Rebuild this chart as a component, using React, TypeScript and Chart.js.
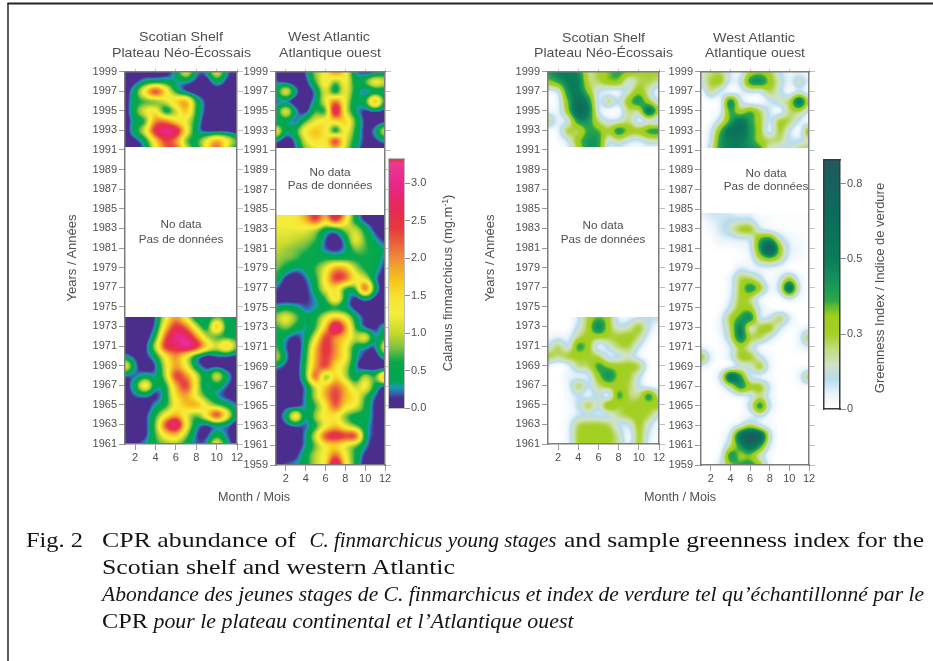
import React, { useEffect, useRef } from "react";
import { Chart, registerables } from "chart.js";
Chart.register(...registerables);

const months = [1, 2, 3, 4, 5, 6, 7, 8, 9, 10, 11, 12];
const monthTicks = [2, 4, 6, 8, 10, 12];
const yearTicksLong = [1959, 1961, 1963, 1965, 1967, 1969, 1971, 1973, 1975, 1977, 1979, 1981, 1983, 1985, 1987, 1989, 1991, 1993, 1995, 1997, 1999];
const yearTicksShort = yearTicksLong.slice(1);
const abundanceTicks = [0, 0.5, 1, 1.5, 2, 2.5, 3];
const greennessTicks = [0, 0.25, 0.5, 0.75];
const greennessTickLabels = ["0", "0.3", "0.5", "0.8"];

// rows run from the newest year down, columns are months 1..12
const shelfAbundanceRecent = [
  [0, 0, 0, 0, 0, .4, 1.2, .3, .3, 1.2, .3, 0],
  [0, .1, .4, .5, .5, .3, .3, .1, 0, .4, .1, 0],
  [0, .5, 1.5, 2.4, 1.5, .6, .2, 0, 0, 0, 0, 0],
  [0, .5, .7, .8, 1.1, 1.6, 1.8, .6, .1, 0, 0, 0],
  [0, .6, 1.2, 1.4, .5, 1.0, 1.7, .6, .1, 0, 0, 0],
  [0, .4, .7, 2.0, 2.0, 1.5, 1.2, .5, 0, 0, 0, 0],
  [0, .5, 1.2, 2.6, 3.0, 2.8, 1.4, .4, .1, .1, .1, 0],
  [0, .1, .5, 1.6, 2.4, 2.0, .8, .6, 1.2, 1.8, 1.3, .7],
  [0, 0, .3, 1.2, 2.2, 2.4, 1.2, .5, 1.3, 2.3, 1.0, .4],
];
const shelfAbundanceEarly = [
  [0, 0, 0, .2, 1.2, 1.9, 1.2, .4, .4, .7, .5, .4],
  [0, 0, 0, .3, 1.6, 2.5, 2.1, 1.1, .5, 1.7, .5, .4],
  [0, 0, 0, .6, 2.2, 3.0, 2.9, 2.0, 1.0, .7, .6, .5],
  [0, 0, .1, 1.0, 2.5, 2.7, 3.1, 2.6, 1.6, 1.1, 1.6, .8],
  [.3, .1, .1, .5, 1.4, 2.0, 1.3, .5, .1, .2, .2, .1],
  [1.3, .3, 0, .2, 1.1, 1.9, 1.3, .4, .1, .1, 0, 0],
  [.2, .2, .4, .3, 1.0, 2.4, 2.0, 1.1, .4, 1.1, .4, 0],
  [0, .5, 1.4, .4, .6, 1.8, 2.4, 1.2, .3, .5, .2, 0],
  [0, .2, .3, .1, .5, 1.5, 1.9, 1.2, .6, .3, .1, 0],
  [0, 0, 0, .3, .6, 1.3, 1.7, 1.8, 1.2, .8, .5, .2],
  [0, 0, .1, .6, 1.3, 1.8, 1.2, .8, 1.4, 2.4, 1.3, .3],
  [0, 0, .1, .8, 2.3, 3.0, 1.4, .4, .2, .4, .3, 0],
  [0, 0, .1, .7, 1.5, 1.7, .9, .2, .1, .5, .2, 0],
  [0, .1, .3, .6, .8, .9, .5, .2, .3, 1.3, .4, 0],
];
const atlanticAbundanceRecent = [
  [0, 0, 0, .2, .9, 1.3, 2.0, 1.4, .3, .1, .1, .4],
  [.2, .1, 0, .1, .7, 1.4, .8, 1.3, .5, .7, 1.3, 1.0],
  [.4, 1.2, .3, 0, .3, 1.1, .5, 1.2, .5, .2, .4, .4],
  [.2, .2, 0, 0, .4, 1.2, 2.1, 1.2, .4, .6, 1.8, .5],
  [.4, 1.2, .3, .1, .7, .7, 2.8, 1.2, .4, .1, .2, .1],
  [.3, .4, .2, .7, 1.2, 1.4, 1.5, 1.6, .7, .1, 0, .1],
  [1.3, .4, .6, 1.4, 1.7, 1.4, .5, 1.3, .6, .1, .3, 1.1],
  [.3, 0, .3, 1.1, 1.5, 1.4, 2.4, 1.2, .5, .1, .1, .3],
  [0, 0, .2, .8, 1.1, 1.2, 1.5, 1.0, .4, 0, 0, 0],
];
const atlanticAbundanceEarly = [
  [1.3, 1.3, 1.4, 1.9, 2.4, 1.8, 3.1, 1.9, .6, .1, 0, 0],
  [1.3, 1.3, 1.4, 1.8, 2.4, 1.7, 2.5, 1.5, .5, .1, 0, 0],
  [1.2, 1.2, 1.2, 1.2, 1.0, .5, .5, .9, 1.0, .5, .1, 0],
  [1.1, 1.1, 1.0, .9, .7, .2, 0, .4, 1.2, .7, .3, .1],
  [1.0, .9, .8, .7, .5, .2, .1, .3, .8, .7, .5, .3],
  [.9, .8, .7, .5, .5, .6, .6, .6, .6, .6, .5, .2],
  [.8, .5, .3, .4, .7, 1.2, 1.9, 1.8, 1.0, .6, .4, .1],
  [.5, .1, 0, .2, .6, 1.4, 2.4, 2.2, 1.4, 1.1, .3, 0],
  [.2, 0, 0, .1, .5, 1.2, 1.5, .7, .7, 2.2, .5, 0],
  [0, 0, 0, .1, .3, .7, 1.5, .5, .1, .4, .1, 0],
  [.4, .5, .4, .2, .3, .5, .6, .4, .1, 0, 0, 0],
  [.9, 1.2, .8, .4, .6, 1.2, 1.7, 1.3, .5, .1, 0, 0],
  [.6, .8, .5, .3, .7, 1.7, 3.0, 2.0, .7, .2, .1, .4],
  [.5, .3, .1, .4, 1.2, 2.4, 2.0, 1.6, 1.0, 1.2, .3, .6],
  [.7, .2, 0, .5, 1.7, 2.5, 2.0, 1.3, .5, .3, .2, 1.2],
  [1.0, .3, 0, .6, 1.8, 2.4, 1.9, 1.3, .4, .1, 0, .4],
  [.3, .1, 0, .7, 1.9, 2.3, 1.5, 1.0, .3, 0, 0, 0],
  [0, 0, 0, .7, 2.2, .8, 1.6, 1.0, .4, 1.0, .7, 1.9],
  [0, 0, 0, .3, 1.1, 1.7, 2.2, 1.7, 1.0, 1.3, .5, .1],
  [0, 0, 0, .3, 1.0, 1.8, 2.4, 1.8, 1.4, .7, .2, 0],
  [0, .1, .1, .3, .7, 1.4, 2.2, 1.5, 1.2, .6, .1, 0],
  [0, .4, 1.4, .3, .9, 1.4, 1.4, .8, .5, .5, .1, 0],
  [0, .1, .2, .2, .6, 1.3, 1.7, 1.2, .8, .4, .1, 0],
  [0, 0, 0, .3, 1.1, 2.3, 2.6, 2.4, 2.3, .5, .1, 0],
  [0, 0, 0, .3, .8, 1.4, 1.6, 1.2, .8, .3, 0, 0],
  [0, 0, .1, .5, 1.0, 1.4, 2.2, 1.3, .6, .1, 0, 0],
  [.1, .2, .3, .5, 1.0, 1.5, 3.1, 1.5, .6, 0, 0, 0],
];
const shelfGreennessRecent = [
  [.4, .5, .5, .45, .2, .25, .33, .38, .3, .25, .25, .25],
  [.3, .38, .5, .5, .22, .22, .3, .3, .12, .22, .23, .18],
  [.05, .1, .45, .5, .3, .1, .05, .05, .15, .3, .15, .03],
  [0, .05, .35, .6, .45, .08, .2, .1, .3, .42, .25, .1],
  [.05, .05, .3, .65, .5, .1, .02, .02, .2, .2, .55, .25],
  [.2, .05, .12, .42, .42, .2, .1, .12, .2, .05, .12, .05],
  [0, .05, .25, .22, .38, .35, .25, .42, .3, .27, .38, .4],
  [0, .02, .1, .3, .42, .4, .12, .18, .1, .08, .15, .15],
  [0, 0, .05, .25, .42, .38, .08, .05, .03, .02, .02, .02],
];
const shelfGreennessEarly = [
  [0, 0, 0, .08, .25, .33, .27, .05, .05, .08, .1, .1],
  [0, 0, 0, .12, .26, .48, .27, .12, .15, .25, .1, .02],
  [.03, .05, .05, .2, .27, .27, .25, .25, .27, .2, .05, 0],
  [.1, .22, .1, .38, .28, .05, .12, .22, .23, .1, 0, 0],
  [.25, .2, .25, .27, .25, .22, .08, .1, .15, .05, 0, 0],
  [.05, 0, .05, .2, .22, .38, .3, .27, .27, .23, .03, 0],
  [0, 0, .05, .05, .08, .3, .45, .3, .25, .12, 0, 0],
  [0, 0, .05, .22, .1, .2, .27, .27, .23, .1, .03, 0],
  [0, 0, .03, .1, .05, .13, .05, .38, .22, .2, .4, .15],
  [0, 0, .02, .1, .23, .12, .32, .25, .26, .27, .27, .28],
  [0, 0, .02, .08, .1, .08, .1, .2, .25, .27, .23, .1],
  [0, 0, .05, .22, .25, .25, .22, .1, .1, .26, .12, .02],
  [0, 0, .05, .25, .27, .28, .27, .17, .03, .25, .08, .01],
  [0, 0, .05, .25, .27, .27, .25, .18, .05, .25, .05, 0],
];
const atlanticGreennessRecent = [
  [.12, .2, .22, .08, .05, .25, .3, .25, .1, .05, .05, .03],
  [.12, .24, .26, .07, .1, .4, .45, .3, .15, .05, .15, .05],
  [.02, .18, .08, .03, .05, .1, .1, .22, .12, .03, .1, .02],
  [0, .02, .05, .45, .12, .02, .02, .08, .15, .22, .55, .2],
  [0, 0, .06, .38, .25, .35, .22, .08, .03, .2, .22, .08],
  [0, .02, .15, .38, .55, .4, .26, .08, .25, .22, .08, .02],
  [0, .08, .35, .6, .62, .42, .27, .05, .25, .1, .03, .32],
  [0, .1, .42, .5, .5, .42, .28, .22, .2, .1, .1, .15],
  [0, .15, .42, .5, .5, .45, .42, .1, .08, .12, .22, .27],
];
const atlanticGreennessEarly = [
  [.08, .08, .08, .05, .03, .03, .01, .01, .01, .01, .01, .01],
  [.03, .06, .08, .1, .1, .1, .03, .02, .01, .01, .01, .01],
  [.01, .03, .08, .14, .25, .26, .1, .05, .02, .01, .01, .01],
  [0, .01, .05, .06, .08, .1, .35, .42, .15, .05, .02, .01],
  [0, 0, .01, .01, .02, .08, .4, .78, .3, .08, .03, .01],
  [0, 0, 0, 0, .01, .04, .22, .3, .2, .05, .02, 0],
  [0, 0, 0, 0, .08, .05, .05, .05, .03, .01, 0, 0],
  [0, 0, 0, .05, .22, .22, .12, .02, .08, .25, .05, 0],
  [0, 0, 0, .05, .25, .42, .27, .05, .12, .6, .1, 0],
  [0, 0, 0, .07, .25, .22, .05, .01, .02, .1, .02, 0],
  [0, 0, .01, .12, .28, .27, .08, .02, 0, 0, 0, 0],
  [0, 0, .05, .25, .38, .45, .1, .1, .22, .08, 0, 0],
  [0, 0, .05, .22, .5, .15, .25, .27, .1, .02, .02, .05],
  [0, 0, .03, .18, .48, .25, .22, .1, .02, 0, .05, .25],
  [.05, .01, .01, .08, .25, .15, .03, .01, 0, 0, .03, .07],
  [.28, .06, .01, .08, .26, .26, .12, .03, 0, 0, 0, 0],
  [.05, .01, .01, .05, .12, .12, .25, .05, 0, 0, .01, .02],
  [0, 0, .12, .6, .42, .1, .05, .02, 0, 0, .05, .25],
  [0, 0, .03, .18, .42, .27, .27, .08, 0, 0, .01, .02],
  [0, 0, 0, .02, .05, .08, .2, .06, 0, 0, 0, 0],
  [0, 0, 0, 0, .01, .12, .42, .1, .01, 0, 0, 0],
  [0, 0, 0, 0, .01, .05, .1, .03, 0, 0, 0, 0],
  [0, 0, 0, .03, .12, .25, .12, .04, 0, 0, 0, 0],
  [0, 0, .01, .12, .6, .85, .7, .15, 0, 0, 0, 0],
  [0, 0, .02, .2, .42, .62, .42, .08, 0, 0, 0, 0],
  [0, 0, .05, .42, .3, .32, .15, .02, 0, 0, 0, 0],
  [0, 0, .1, .3, .38, .42, .28, .05, 0, 0, 0, 0],
];

type Stop = [number, string];
const abundanceColors: Stop[] = [
  [0, "#4a2d8c"], [.13, "#4a2d8c"], [.2, "#3466ae"], [.28, "#1a9cb0"], [.36, "#00a651"], [.62, "#0aa84a"],
  [.8, "#7cc242"], [1.0, "#c5d92d"], [1.25, "#f4ee3c"], [1.45, "#f8e535"], [1.7, "#f5c71a"], [2.0, "#f08c3a"],
  [2.4, "#e63a3c"], [2.7, "#e8285a"], [3.0, "#e9278c"], [3.28, "#ec3a92"], [3.3, "#e33b4b"], [3.4, "#e33b4b"],
];
const greennessColors: Stop[] = [
  [0, "#ffffff"], [.05, "#eaf4fa"], [.1, "#b9dcef"], [.15, "#cfe3c4"], [.2, "#c2dc80"], [.25, "#a6cf28"], [.31, "#9ed01a"],
  [.345, "#5cb82e"], [.36, "#2ea84a"], [.42, "#18965a"], [.5, "#0a7d58"], [.65, "#0c6c5c"], [.85, "#22585f"],
];

function hexRgb(h: string) {
  return [parseInt(h.slice(1, 3), 16), parseInt(h.slice(3, 5), 16), parseInt(h.slice(5, 7), 16)];
}
function colourAt(stops: Stop[], v: number) {
  if (v <= stops[0][0]) return hexRgb(stops[0][1]);
  for (let i = 1; i < stops.length; i++) {
    if (v <= stops[i][0]) {
      const t = (v - stops[i - 1][0]) / (stops[i][0] - stops[i - 1][0]);
      const a = hexRgb(stops[i - 1][1]);
      const b = hexRgb(stops[i][1]);
      return [a[0] + (b[0] - a[0]) * t, a[1] + (b[1] - a[1]) * t, a[2] + (b[2] - a[2]) * t];
    }
  }
  return hexRgb(stops[stops.length - 1][1]);
}
function cr(a: number, b: number, c: number, d: number, t: number) {
  return b + 0.5 * t * (c - a + t * (2 * a - 5 * b + 4 * c - d + t * (3 * (b - c) + d - a)));
}

type Block = { rows: number[][]; firstYear: number; from: number; to: number };

function sample(rows: number[][], u: number, v: number) {
  const i = Math.max(0, Math.min(rows.length - 1, Math.floor(v)));
  const j = Math.max(0, Math.min(10, Math.floor(u)));
  const ty = Math.min(1, Math.max(0, v - i));
  const tx = Math.min(1, Math.max(0, u - j));
  const r = (k: number) => rows[Math.max(0, Math.min(rows.length - 1, k))];
  const col = (row: number[]) =>
    cr(row[Math.max(0, j - 1)], row[j], row[j + 1], row[Math.min(11, j + 2)], tx);
  return cr(col(r(i - 1)), col(r(i)), col(r(i + 1)), col(r(i + 2)), ty);
}
const softDot = 0.38;
function softSample(rows: number[][], u: number, v: number) {
  return (
    0.52 * sample(rows, u, v) +
    0.12 * (sample(rows, u - softDot, v) + sample(rows, u + softDot, v) + sample(rows, u, v - softDot) + sample(rows, u, v + softDot))
  );
}

function heatPlugin(blocks: Block[], stops: Stop[]) {
  return {
    id: "heat",
    beforeDatasetsDraw(chart: any) {
      const { left, top, width, height } = chart.chartArea;
      const w = Math.round(width), h = Math.round(height);
      const off = document.createElement("canvas");
      off.width = w; off.height = h;
      const octx = off.getContext("2d")!;
      const img = octx.createImageData(w, h);
      const xs = chart.scales.x, ys = chart.scales.y;
      for (let py = 0; py < h; py++) {
        const year = ys.getValueForPixel(top + py + 0.5);
        const b = blocks.find((k) => year <= k.from && year >= k.to);
        if (!b) continue;
        for (let px = 0; px < w; px++) {
          const m = xs.getValueForPixel(left + px + 0.5);
          const val = softSample(b.rows, m - months[0], b.firstYear - year);
          const c = colourAt(stops, val);
          const o = (py * w + px) * 4;
          img.data[o] = c[0]; img.data[o + 1] = c[1]; img.data[o + 2] = c[2]; img.data[o + 3] = 255;
        }
      }
      octx.putImageData(img, 0, 0);
      chart.ctx.drawImage(off, Math.round(left), Math.round(top));
    },
  };
}

function barPlugin(stops: Stop[]) {
  return {
    id: "colourBar",
    beforeDatasetsDraw(chart: any) {
      const { left, right, top, bottom } = chart.chartArea;
      const ys = chart.scales.y;
      for (let py = Math.round(top); py < Math.round(bottom); py++) {
        const c = colourAt(stops, ys.getValueForPixel(py + 0.5));
        chart.ctx.fillStyle = `rgb(${c[0] | 0},${c[1] | 0},${c[2] | 0})`;
        chart.ctx.fillRect(left, py, right - left, 1);
      }
    },
  };
}

const INK = "#505050";
const FRAME = "#7c7c7c";
const FONT = "'Liberation Sans', Arial, sans-serif";

function fixed(size: number, horizontal: boolean) {
  return (s: any) => { if (horizontal) s.height = size; else s.width = size; };
}
function setTicks(values: number[]) {
  return (s: any) => { s.ticks = values.map((value) => ({ value })); };
}

type Rect = { l: number; r: number; t: number; b: number };

function ChartBox({ make, box, margin }: { make: () => any; box: Rect; margin: number[] }) {
  const ref = useRef<HTMLCanvasElement>(null);
  useEffect(() => {
    const chart = new Chart(ref.current!, make());
    return () => chart.destroy();
  }, []);
  const [ml, mr, mt, mb] = margin;
  const W = box.r - box.l + ml + mr;
  const H = box.b - box.t + mt + mb;
  return (
    <div style={{ position: "absolute", left: box.l - ml, top: box.t - mt, width: W, height: H }}>
      <canvas ref={ref} width={W} height={H} style={{ display: "block", width: W, height: H }} />
    </div>
  );
}

const panelMargin = [36, 10, 8, 24];
const barMargin = [2, 36, 8, 8];

function panelConfig(blocks: Block[], stops: Stop[], minYear: number, years: number[]) {
  const edge = { color: FRAME, width: 1.5, z: 1 };
  const tickGrid = { drawOnChartArea: false, drawTicks: true, tickLength: 6, color: "#9a9a9a", lineWidth: 1 };
  return () => ({
    type: "scatter",
    data: {
      datasets: blocks.map((b) => ({
        data: b.rows.flatMap((row, i) => row.map((v, j) => ({ x: months[j], y: b.firstYear - i, v }))),
        pointRadius: 0,
      })),
    },
    plugins: [heatPlugin(blocks, stops)],
    options: {
      animation: false,
      responsive: false,
      clip: false,
      layout: { padding: 0, autoPadding: false },
      plugins: { legend: { display: false }, tooltip: { enabled: false } },
      scales: {
        x: {
          type: "linear", min: 1, max: 12, position: "bottom",
          afterBuildTicks: setTicks(monthTicks), afterFit: fixed(panelMargin[3], true),
          grid: tickGrid, border: edge,
          ticks: { color: INK, font: { family: FONT, size: 11 }, padding: 1, maxRotation: 0, autoSkip: false },
        },
        x2: {
          type: "linear", min: 1, max: 12, position: "top",
          afterBuildTicks: setTicks(monthTicks), afterFit: fixed(panelMargin[2], true),
          grid: { ...tickGrid, tickLength: 3, color: "#c8c8c8" }, border: edge, ticks: { display: false },
        },
        y: {
          type: "linear", min: minYear, max: 1999, position: "left",
          afterBuildTicks: setTicks(years), afterFit: fixed(panelMargin[0], false),
          grid: tickGrid, border: edge,
          ticks: { color: INK, font: { family: FONT, size: 11 }, padding: 2, autoSkip: false, callback: (v: number) => String(v) },
        },
        y2: {
          type: "linear", min: minYear, max: 1999, position: "right",
          afterBuildTicks: setTicks(years), afterFit: fixed(panelMargin[1], false),
          grid: { ...tickGrid, color: "#c0c0c0" }, border: edge, ticks: { display: false },
        },
      },
    },
  });
}

function barConfig(stops: Stop[], max: number, ticks: number[], label: (v: number) => string, edgeColor: string, edgeWidth: number) {
  const edge = { color: edgeColor, width: edgeWidth, z: 1 };
  const blank = { display: false, drawTicks: false };
  return () => ({
    type: "scatter",
    data: { datasets: [{ data: ticks.map((t) => ({ x: 0, y: t })), pointRadius: 0 }] },
    plugins: [barPlugin(stops)],
    options: {
      animation: false,
      responsive: false,
      layout: { padding: 0, autoPadding: false },
      plugins: { legend: { display: false }, tooltip: { enabled: false } },
      scales: {
        x: {
          type: "linear", min: 0, max: 1, position: "bottom",
          afterFit: fixed(barMargin[3], true), grid: blank, border: edge, ticks: { display: false },
        },
        xt: {
          type: "linear", min: 0, max: 1, position: "top",
          afterFit: fixed(barMargin[2], true), grid: blank, border: edge, ticks: { display: false },
        },
        y: {
          type: "linear", min: 0, max, position: "right",
          afterBuildTicks: setTicks(ticks), afterFit: fixed(barMargin[1], false),
          grid: { drawOnChartArea: false, tickLength: 6, color: "#8a8a8a" },
          border: edge,
          ticks: { color: INK, font: { family: FONT, size: 11 }, padding: 1, autoSkip: false, callback: (v: number) => label(v) },
        },
        yl: {
          type: "linear", min: 0, max, position: "left",
          afterFit: fixed(barMargin[0], false), grid: blank, border: edge, ticks: { display: false },
        },
      },
    },
  });
}

const blocksA: Block[] = [
  { rows: shelfAbundanceRecent, firstYear: 1999, from: 1999, to: 1991.3 },
  { rows: shelfAbundanceEarly, firstYear: 1974, from: 1974, to: 1961 },
];
const blocksB: Block[] = [
  { rows: atlanticAbundanceRecent, firstYear: 1999, from: 1999, to: 1991.3 },
  { rows: atlanticAbundanceEarly, firstYear: 1985, from: 1984.5, to: 1959 },
];
const blocksC: Block[] = [
  { rows: shelfGreennessRecent, firstYear: 1999, from: 1999, to: 1991.3 },
  { rows: shelfGreennessEarly, firstYear: 1974, from: 1974, to: 1961 },
];
const blocksD: Block[] = [
  { rows: atlanticGreennessRecent, firstYear: 1999, from: 1999, to: 1991.3 },
  { rows: atlanticGreennessEarly, firstYear: 1985, from: 1984.7, to: 1959 },
];

const panels = [
  { box: { l: 125, r: 237, t: 71, b: 444 }, make: panelConfig(blocksA, abundanceColors, 1961, yearTicksShort) },
  { box: { l: 276, r: 385, t: 71, b: 465 }, make: panelConfig(blocksB, abundanceColors, 1959, yearTicksLong) },
  { box: { l: 548, r: 659, t: 71, b: 444 }, make: panelConfig(blocksC, greennessColors, 1961, yearTicksShort) },
  { box: { l: 701, r: 809, t: 71, b: 465 }, make: panelConfig(blocksD, greennessColors, 1959, yearTicksLong) },
];

function T(p: any) {
  const { children, len, ...rest } = p;
  return (
    <text {...rest} {...(len ? { textLength: len, lengthAdjust: "spacingAndGlyphs" } : {})}>{children}</text>
  );
}

export default function App() {
  const sans = { fontFamily: FONT, fill: INK };
  const serif = { fontFamily: "'Liberation Serif', serif", fontSize: 21, fill: "#141414" };
  return (
    <div style={{ position: "absolute", left: 0, top: 0, width: 933, height: 661, overflow: "hidden", background: "#fff" }}>
      <div style={{ position: "absolute", inset: 0, filter: "blur(0.6px)" }}>
        {panels.map((p, i) => (
          <ChartBox key={i} box={p.box} make={p.make} margin={panelMargin} />
        ))}
        <ChartBox box={{ l: 388, r: 404, t: 158, b: 408 }} margin={barMargin}
          make={barConfig(abundanceColors, 3.34, abundanceTicks, (v) => v.toFixed(1), "#bdbdbd", 1)} />
        <ChartBox box={{ l: 824, r: 840, t: 160, b: 409 }} margin={barMargin}
          make={barConfig(greennessColors, 0.83, greennessTicks, (v) => greennessTickLabels[greennessTicks.indexOf(v)], "#3a3a3a", 1.5)} />
        <svg width={933} height={661} style={{ position: "absolute", left: 0, top: 0 }}>
          <g {...sans} fontSize={13.5}>
            <T x={139} y={41} len={84}>Scotian Shelf</T>
            <T x={112} y={56.5} len={139}>Plateau Néo-Écossais</T>
            <T x={288} y={41} len={82}>West Atlantic</T>
            <T x={279} y={56.5} len={102}>Atlantique ouest</T>
            <T x={562} y={41.5} len={83}>Scotian Shelf</T>
            <T x={534} y={57} len={139}>Plateau Néo-Écossais</T>
            <T x={713} y={41.5} len={82}>West Atlantic</T>
            <T x={705} y={57} len={100}>Atlantique ouest</T>
          </g>
          <g {...sans} fontSize={11.7} textAnchor="middle">
            <text x={181} y={228}>No data</text>
            <text x={181} y={243}>Pas de données</text>
            <text x={330} y={176}>No data</text>
            <text x={330} y={189}>Pas de données</text>
            <text x={603} y={229}>No data</text>
            <text x={603} y={243}>Pas de données</text>
            <text x={766} y={177}>No data</text>
            <text x={766} y={190}>Pas de données</text>
          </g>
          <g {...sans} fontSize={13} textAnchor="middle">
            <text transform="translate(76 258) rotate(-90)">Years / Années</text>
            <text transform="translate(494 258) rotate(-90)">Years / Années</text>
            <text x={254} y={501} fontSize={12.6}>Month / Mois</text>
            <text x={680} y={501} fontSize={12.6}>Month / Mois</text>
            <text transform="translate(452 283) rotate(-90)">
              Calanus finmarchicus (mg.m<tspan dy={-4} fontSize={8.5}>-1</tspan><tspan dy={4}>)</tspan>
            </text>
            <text transform="translate(884 288) rotate(-90)">Greenness Index / Indice de verdure</text>
          </g>
        </svg>
      </div>
      <div style={{ position: "absolute", inset: 0, filter: "blur(0.3px)" }}>
        <svg width={933} height={661} style={{ position: "absolute", left: 0, top: 0 }}>
          <line x1={8} y1={3} x2={8} y2={661} stroke="#333" strokeWidth={1.6} />
          <line x1={7.5} y1={3.5} x2={933} y2={3.5} stroke="#222" strokeWidth={1.8} />
          <g {...serif}>
            <T x={26} y={547} len={57}>Fig. 2</T>
            <T x={102} y={547} len={194}>CPR abundance of</T>
            <T x={309.5} y={547} len={247} fontStyle="italic">C. finmarchicus young stages</T>
            <T x={564} y={547} len={360}>and sample greenness index for the</T>
            <T x={102} y={574} len={353}>Scotian shelf  and western Atlantic</T>
            <T x={102} y={601} len={822} fontStyle="italic">Abondance des jeunes stages de C. finmarchicus et index de verdure tel qu’échantillonné par le</T>
            <T x={102} y={628} len={46}>CPR</T>
            <T x={153.5} y={628} len={420} fontStyle="italic">pour le plateau continental et l’Atlantique ouest</T>
          </g>
        </svg>
      </div>
    </div>
  );
}
